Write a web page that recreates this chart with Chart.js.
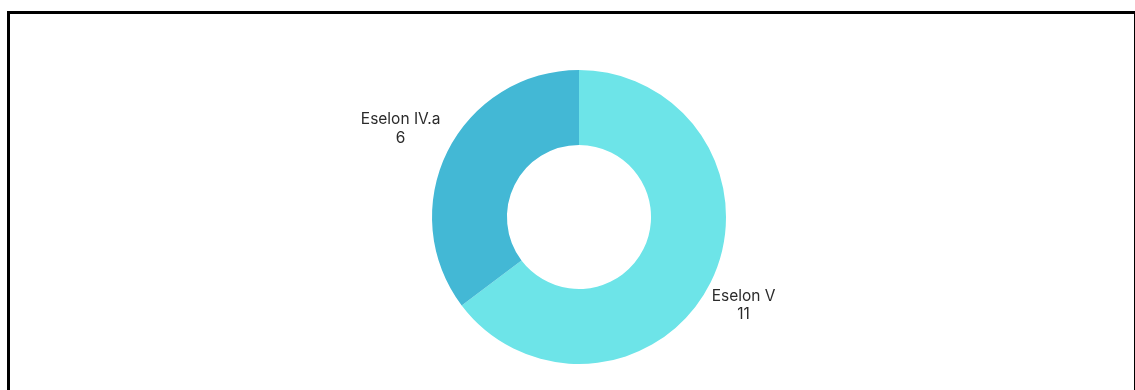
<!DOCTYPE html>
<html>
<head>
<meta charset="utf-8">
<script src="https://cdn.jsdelivr.net/npm/chart.js@4.4.1/dist/chart.umd.min.js"></script>
<style>
  html, body { margin: 0; padding: 0; background: #fff; overflow: hidden; }
  #wrap { position: relative; width: 1135px; height: 390px; }
  #frame { position: absolute; left: 7px; top: 11px; width: 1124px; height: 400px;
           border-top: 3px solid #000; border-left: 3px solid #000; border-right: 2px solid #000; }
  canvas { position: absolute; left: 0; top: 0; }
</style>
</head>
<body>
<div id="wrap">
  <div id="frame"></div>
  <canvas id="c" width="1135" height="390"></canvas>
</div>
<script>
const categories = ["Eselon V", "Eselon IV.a"];
const values = [11, 6];
const colors = ["#6de4e8", "#43b8d5"];

const outsideLabels = {
  id: 'outsideLabels',
  afterDatasetsDraw(chart) {
    const ctx = chart.ctx;
    const meta = chart.getDatasetMeta(0);
    ctx.save();
    ctx.font = '15.5px Inter, "Open Sans", sans-serif';
    ctx.fillStyle = '#2b2b2b';
    ctx.textAlign = 'center';
    ctx.textBaseline = 'middle';
    const lh = 18.5;
    meta.data.forEach((arc, i) => {
      const p = arc.getProps(['x', 'y', 'startAngle', 'endAngle', 'outerRadius'], true);
      const mid = (p.startAngle + p.endAngle) / 2;
      const dx = Math.cos(mid), dy = Math.sin(mid);
      const lines = [categories[i], String(values[i])];
      const w = Math.max(...lines.map(l => ctx.measureText(l).width));
      const h = lines.length * lh;
      const rx = p.outerRadius - 25 + 0.97 * w;
      const ry = p.outerRadius + 51;
      const cx = p.x + dx * rx, cy = p.y + dy * ry;
      lines.forEach((l, k) => {
        ctx.fillText(l, cx, cy - h / 2 + lh / 2 + k * lh);
      });
    });
    ctx.restore();
  }
};

new Chart(document.getElementById('c'), {
  type: 'doughnut',
  data: {
    labels: categories,
    datasets: [{ data: values, backgroundColor: colors, borderWidth: 0 }]
  },
  options: {
    responsive: false,
    animation: false,
    cutout: '49%',
    layout: { padding: { left: 432, right: 409, top: 70, bottom: 26 } },
    plugins: { legend: { display: false }, tooltip: { enabled: false } }
  },
  plugins: [outsideLabels]
});
</script>
</body>
</html>
